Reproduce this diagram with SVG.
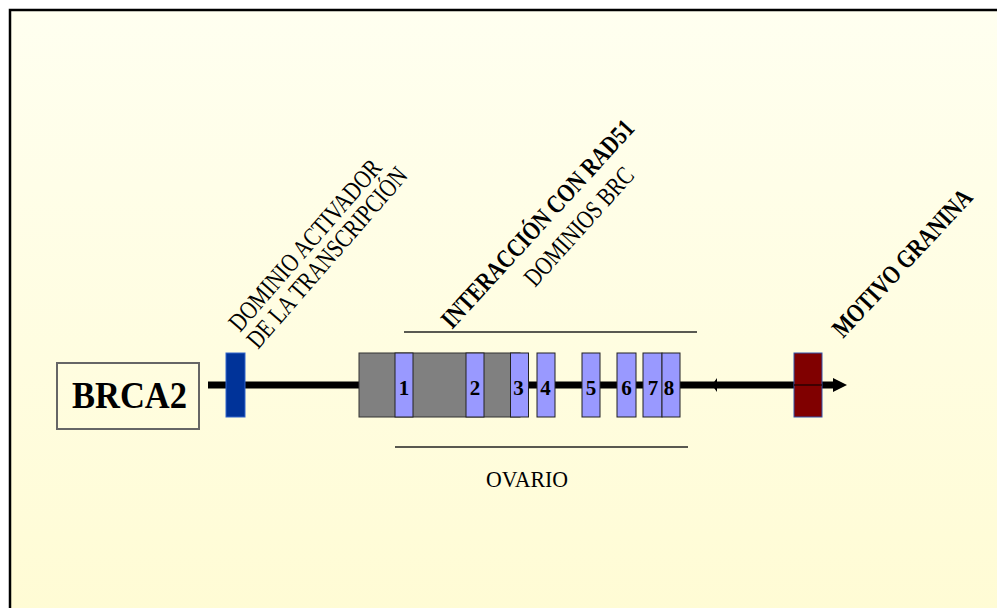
<svg xmlns="http://www.w3.org/2000/svg" width="997" height="608" viewBox="0 0 997 608">
<defs>
<linearGradient id="bg" x1="0" y1="0" x2="0" y2="1">
<stop offset="0" stop-color="#FFFFF0"/>
<stop offset="1" stop-color="#FFFBD0"/>
</linearGradient>
<style>
.t{font-family:"Liberation Serif","Times New Roman",serif;fill:#000}
.b{font-weight:bold}
.rot{font-size:26px}
.num{font-size:21px;font-weight:bold;text-anchor:middle}
.brc{fill:#9999FF;stroke:#222;stroke-width:1}
.thin{stroke:#222;stroke-width:1.5}
</style>
</defs>
<rect x="0" y="0" width="997" height="608" fill="#fff"/>
<rect x="10" y="10" width="1000" height="700" fill="url(#bg)" stroke="#000" stroke-width="2.5"/>

<g id="connectors">
<line x1="208" y1="385" x2="834" y2="385" stroke="#000" stroke-width="7"/>
<polygon points="833,378 847,385 833,392" fill="#000"/>
<polygon points="712,385 717,378 717,392" fill="#000"/>
<line class="thin" x1="404" y1="332" x2="697" y2="332"/>
<line class="thin" x1="395" y1="447" x2="688" y2="447"/>
</g>

<g id="brca2">
<rect x="57" y="363" width="142" height="66" fill="none" stroke="#666" stroke-width="2"/>
<text class="t b" x="72" y="408" font-size="38" textLength="115" lengthAdjust="spacingAndGlyphs">BRCA2</text>
</g>

<g id="activador">
<rect x="226" y="353" width="19" height="64" fill="#003399" stroke="#3366cc" stroke-width="1"/>
<text class="t rot" transform="translate(240,333) rotate(-49)" textLength="218" lengthAdjust="spacingAndGlyphs">DOMINIO ACTIVADOR</text>
<text class="t rot" transform="translate(258,350) rotate(-49)" textLength="230" lengthAdjust="spacingAndGlyphs">DE LA TRANSCRIPCIÓN</text>
</g>

<g id="rad51">
<rect x="359" y="353" width="161" height="64" fill="#808080" stroke="#333" stroke-width="1"/>
<rect class="brc" x="395" y="353" width="18" height="64"/>
<rect class="brc" x="466" y="353" width="18" height="64"/>
<rect class="brc" x="510.5" y="353" width="18" height="64"/>
<rect class="brc" x="537" y="353" width="18" height="64"/>
<rect class="brc" x="582" y="353" width="18" height="64"/>
<rect class="brc" x="617" y="353" width="19" height="64"/>
<rect class="brc" x="643" y="353" width="19" height="64"/>
<rect class="brc" x="662" y="353" width="18" height="64"/>
<text class="t num" x="404" y="394.5">1</text>
<text class="t num" x="475" y="394.5">2</text>
<text class="t num" x="518.5" y="394.5">3</text>
<text class="t num" x="545.5" y="394.5">4</text>
<text class="t num" x="591" y="394.5">5</text>
<text class="t num" x="626.5" y="394.5">6</text>
<text class="t num" x="653" y="394.5">7</text>
<text class="t num" x="669" y="394.5">8</text>
<text class="t rot b" transform="translate(452,330) rotate(-47.5)" textLength="272" lengthAdjust="spacingAndGlyphs">INTERACCIÓN CON RAD51</text>
<text class="t rot" transform="translate(535,288) rotate(-48)" textLength="150" lengthAdjust="spacingAndGlyphs">DOMINIOS BRC</text>
</g>

<g id="ovario">
<text class="t" x="486" y="487" font-size="23" textLength="82" lengthAdjust="spacingAndGlyphs">OVARIO</text>
</g>

<g id="granina">
<rect x="794" y="353" width="28" height="64" fill="#800000" stroke="#3355aa" stroke-width="1"/>
<line x1="794" y1="385" x2="822" y2="385" stroke="#2a0000" stroke-width="1.5"/>
<text class="t rot b" transform="translate(843,339) rotate(-47)" textLength="192" lengthAdjust="spacingAndGlyphs">MOTIVO GRANINA</text>
</g>
</svg>
